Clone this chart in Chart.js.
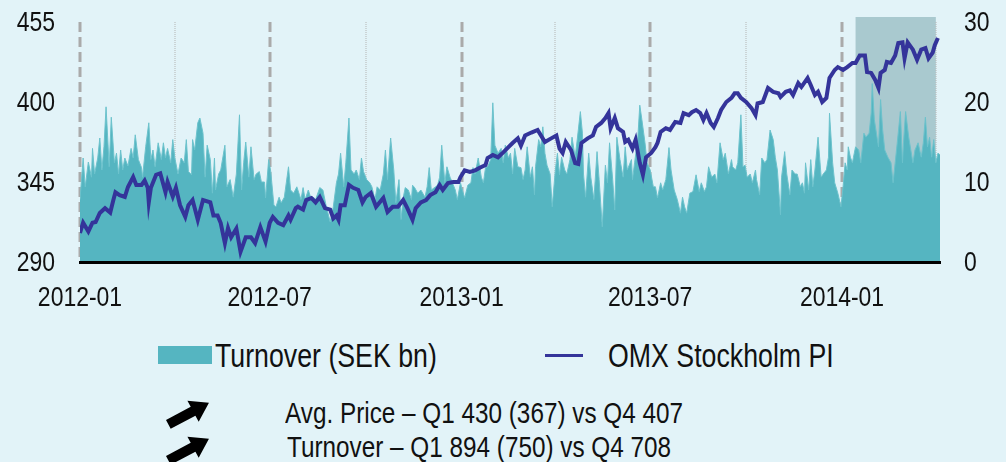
<!DOCTYPE html>
<html>
<head>
<meta charset="utf-8">
<script src="https://cdn.jsdelivr.net/npm/chart.js@4.4.1/dist/chart.umd.min.js"></script>
<style>
  body{margin:0;background:#e2f3f8;}
  #wrap{position:relative;width:1006px;height:462px;overflow:hidden;background:#e2f3f8;
        font-family:"Liberation Sans",Arial,sans-serif;color:#111;}
  #chart{position:absolute;left:0;top:0;}
  .txt{position:absolute;white-space:nowrap;line-height:1;transform-origin:0 50%;transform:scaleX(0.81);}
  .box{position:absolute;background:#55b5c1;}
  .lline{position:absolute;background:#34349a;}
  .arrow{position:absolute;}
</style>
</head>
<body>
<div id="wrap">
  <canvas id="chart" width="1006" height="320"></canvas>

  <div class="box" style="left:158px;top:346px;width:54px;height:18px;"></div>
  <div class="txt" style="left:215px;top:339px;font-size:33px;">Turnover (SEK bn)</div>
  <div class="lline" style="left:545px;top:354px;width:38px;height:3px;"></div>
  <div class="txt" style="left:608px;top:339px;font-size:33px;">OMX Stockholm PI</div>

  <svg class="arrow" style="left:166px;top:396px;" width="50" height="36" viewBox="0 0 50 36">
    <polygon points="0,12 28,12 28,5 46,17 28,29 28,22 0,22" fill="#000" transform="rotate(-28 24 18)"/>
  </svg>
  <svg class="arrow" style="left:166px;top:432px;" width="50" height="36" viewBox="0 0 50 36">
    <polygon points="0,12 28,12 28,5 46,17 28,29 28,22 0,22" fill="#000" transform="rotate(-28 24 18)"/>
  </svg>
  <div class="txt" style="left:285px;top:398px;font-size:30px;">Avg. Price – Q1 430 (367) vs Q4 407</div>
  <div class="txt" style="left:287px;top:432px;font-size:30px;">Turnover – Q1 894 (750) vs Q4 708</div>
</div>

<script>
// days counted from 2012-01-01
const halfYearDays = [0, 182, 366, 547, 731];
const halfYearLabels = ["2012-01", "2012-07", "2013-01", "2013-07", "2014-01"];
const quarterDays = [0, 91, 182, 274, 366, 456, 547, 639, 731, 821];
const shadeStart = 744;
const shadeEnd = 821;

const leftTicks = [290, 345, 400, 455];
const rightTicks = [0, 10, 20, 30];

/* OMX Stockholm PI */
const omxDays = [0,3,8,12,15,19,24,29,32,34,38,43,46,51,54,59,62,65,66,68,73,77,82,84,89,92,96,101,104,108,113,118,125,128,132,135,139,142,145,150,154,159,164,168,173,178,182,185,190,195,200,202,207,209,214,217,222,226,230,235,240,243,246,248,250,254,258,262,267,271,274,279,284,291,295,300,305,310,314,319,322,327,332,336,341,345,348,353,358,363,365,369,374,379,384,389,391,396,401,406,411,415,420,423,427,433,439,446,452,457,460,463,466,471,475,478,481,487,492,495,500,504,507,509,513,516,521,523,526,530,533,537,540,543,548,552,554,557,562,566,571,576,579,584,587,591,595,598,601,605,608,612,615,620,625,628,631,634,639,644,648,650,655,660,665,670,672,677,681,684,689,692,698,701,705,708,712,716,719,724,727,732,736,741,744,748,753,755,759,763,766,768,772,774,778,782,785,789,791,794,799,803,807,811,814,818,820,823];
const omxValues = [310,317,311,317,317.5,323.7,327,324,332.6,338,336,334.7,341.6,348.4,343,343,346,341,331,341,350,351,338,345,335,341,329,321,329,332.6,319,332.6,331,322,322,316.8,303,313.3,307,313,297,307,307,303,314,304,317,321,317,315.4,322,319,327,328,326,332.6,334,331,334.7,327,326,320,322,319,329,329,343,341,339.5,331,334.7,337.4,328,334,324.4,328,328,332.6,327,319,327,331,332.6,336,338,343,339.5,344.3,345,345,348.4,353,352,353,355,356.7,361.5,363.6,362,365.4,369,371.8,375,370,377,379,380.8,372.5,375,377,368,365,372.5,367,358,357.4,371.8,375,377,382.8,385.6,389,392.4,382,389,382,379.4,372.5,374,368,374,358,350,362,365,369,371.8,379.4,382,380.8,386.3,385.6,392.4,391,393,394.5,392.4,387.6,392.4,385.6,382.8,389,394.5,400,402.8,406,406,402.8,400,396,391,399,400,409.6,407,406,403.4,407,408,404.8,413,410.3,416.5,411.7,404.8,407,400,402.8,416.5,422,424,422,424,426.8,426.8,432,432,420.6,420,415,409.6,420,422,427.5,426.8,432,440.6,441,430,441,436,429,436,437,430,434,439,444];

/* Turnover (SEK bn) */
const turnoverDays = [0,3,5,8,11,12,14,17,19,21,23,25,28,30,33,35,37,39,41,43,46,49,51,53,56,59,60,63,66,68,70,72,75,78,80,82,84,87,89,91,94,97,100,102,104,107,108,110,113,115,118,120,122,125,127,129,130,133,135,139,141,144,147,150,153,155,157,159,162,164,167,169,172,174,177,178,181,183,186,188,191,193,196,200,202,205,208,209,212,214,216,219,222,224,226,230,233,236,240,243,246,248,250,253,255,258,260,263,265,268,270,272,275,278,280,283,285,288,291,293,295,298,301,303,306,308,310,312,315,318,319,321,324,327,331,333,335,337,341,343,345,347,350,352,355,357,360,362,365,366,369,372,375,377,379,382,385,387,389,391,394,396,398,401,404,406,408,411,413,415,417,420,423,425,427,429,432,434,436,437,440,442,444,446,448,451,453,456,458,460,462,465,467,470,472,475,477,480,482,483,485,488,490,493,496,498,501,504,506,508,511,513,515,518,521,523,525,529,530,532,535,537,539,542,544,547,550,552,554,557,559,562,565,567,570,573,576,578,580,582,585,588,591,594,596,599,601,603,606,609,611,614,617,619,622,625,626,629,631,634,636,638,640,643,645,648,649,652,654,657,659,662,665,667,669,672,673,676,678,681,683,686,688,691,693,695,696,699,701,703,705,708,711,713,716,718,719,722,724,727,730,732,734,736,737,739,741,742,744,747,749,752,754,757,759,760,762,764,766,768,770,772,775,778,780,782,784,787,789,790,792,795,797,799,801,804,807,809,811,813,815,817,819,821,823,825];
const turnoverValues = [7.8,13,9.4,12.5,10.6,14.2,11,13,15.5,11.5,14.4,19.4,11.9,18.1,12.4,13.6,11,14,11.5,13,12,14.2,13,15.9,12.8,11.8,10.6,14.4,17.4,12.8,14,11.9,14.9,12.8,14.9,13,14.2,12.4,15.3,13,11,13,12.4,15.3,11.3,10.9,15.3,14,17.4,18,16.1,10.6,14.6,12.8,8.6,13,9,11,11.5,14.6,9.4,10.3,8.1,11,18.4,9,12.4,15,10.6,14.4,10.3,11,11.3,10,10,8,12.8,11.3,7.1,6.9,8.1,7.4,8.1,11.9,9,8.6,9.4,9,7.8,9.3,7.8,9,7.8,8.1,7.8,9.3,9,7.1,5,6.9,9.9,11,13.6,9.4,12.4,18,11.5,11,11.5,10.3,13,11.3,10.3,9.9,9.4,7.8,9.4,9,11,14,10.3,15.5,11.5,7.4,10.3,5.3,8,9.3,9,7.8,9.6,9.3,8.6,9,8.1,9.4,11.8,9,9.4,9.6,10.6,14.6,9.9,11.9,10.6,10,9,7.8,9.9,9.4,8,9.6,9.9,11.8,11,13,10.6,9.9,11.8,11.9,12.8,19.9,14.6,13.6,14.2,12.4,14.6,13,13.6,11,14.2,11.9,11.8,10.3,11.5,14.4,10.6,11.9,8.4,11.9,15.3,14.4,16.9,13.6,12.1,11,6.9,11.5,13.6,10.9,13.1,11.5,11,12.8,15.6,13.1,15.3,18.8,16.1,11,8.1,13.6,10.6,7.8,13.8,10.3,4.4,12.1,9.9,14.9,10.3,6.5,15.6,12.8,10.6,14.4,11.5,12.8,10.3,12.4,15.3,19.6,17.8,14.9,12.4,11.5,9.4,9.4,8,9.9,9,10.3,14.3,11.5,9,7.8,6.1,8.1,6.9,6.1,8.6,8.8,10.9,8.8,9.9,8.8,9.4,11.9,10.6,11,9.9,14.9,12.8,13.6,11,12.8,11.9,11.5,12.4,18.4,11.9,12.1,10.6,11,9.9,11.5,10.3,8.4,13,12.4,12.8,16.5,15.3,13.1,11.5,5.9,10.6,13.8,11,8.4,11.5,11,11,9.4,9.9,8.6,12.4,9,12.8,9.4,11.5,15.6,10.6,11,11.5,13.1,18.6,12.4,9.9,8.6,6.9,9.4,12.4,11.5,14.4,13.1,12.4,13.1,14.4,14,12.4,16.1,15.6,16.1,18.6,22.3,17.8,16.1,14.4,20.3,16.5,14,13.1,12.4,9.9,12.4,14.9,18.8,12.4,14.9,18.8,15.6,14,12.4,14,14.9,13.1,14.9,18.1,14.4,15.6,13.1,15.3,12.4,13.6,13.4];

const tickFont = '28px "Liberation Sans", Arial, sans-serif';

// condensed text: the page has no narrow face, so squeeze the regular one
function narrowText(ctx, text, x, y, align){
    ctx.save();
    ctx.translate(x, y);
    ctx.scale(0.82, 1);
    ctx.textAlign = align;
    ctx.fillText(text, 0, 0);
    ctx.restore();
}

const quarterLines = {
    id: "quarterLines",
    beforeDatasetsDraw(chart){
        const {ctx, chartArea, scales} = chart;
        const xs = scales.x;
        ctx.save();

        // shaded Q1 2014
        const s0 = xs.getPixelForValue(shadeStart);
        const s1 = xs.getPixelForValue(shadeEnd);
        ctx.fillStyle = "#a9c9cf";
        ctx.fillRect(s0, chartArea.top - 5, s1 - s0, chartArea.bottom - chartArea.top + 5);

        quarterDays.forEach(d=>{
            const px = Math.round(xs.getPixelForValue(d));
            ctx.beginPath();
            if(halfYearDays.includes(d)){
                ctx.strokeStyle = "#aaaaaa";
                ctx.lineWidth = 3;
                ctx.setLineDash([10, 5]);
            }else{
                ctx.strokeStyle = "#b4b4b4";
                ctx.lineWidth = 1;
                ctx.setLineDash([1, 1]);
            }
            ctx.moveTo(px, chartArea.top);
            ctx.lineTo(px, chartArea.bottom);
            ctx.stroke();
        });
        ctx.restore();
    }
};

const narrowTicks = {
    id: "narrowTicks",
    afterDraw(chart){
        const {ctx, chartArea, scales} = chart;
        ctx.save();
        ctx.font = tickFont;
        ctx.fillStyle = "#111";
        ctx.textBaseline = "middle";

        leftTicks.forEach(v=>{
            narrowText(ctx, String(v), chartArea.left - 25, scales.y.getPixelForValue(v) + 1, "right");
        });
        rightTicks.forEach(v=>{
            narrowText(ctx, String(v), chartArea.right + 24, scales.y2.getPixelForValue(v) + 1, "left");
        });
        halfYearDays.forEach((d, i)=>{
            narrowText(ctx, halfYearLabels[i], scales.x.getPixelForValue(d), chartArea.bottom + 36, "center");
        });
        ctx.restore();
    }
};

new Chart(document.getElementById("chart"), {
    type: "line",
    data: {
        datasets: [
            {
                label: "OMX Stockholm PI",
                data: omxDays.map((d, i)=>({x: d, y: omxValues[i]})),
                yAxisID: "y",
                borderColor: "#34349a",
                borderWidth: 4,
                pointRadius: 0,
                tension: 0,
                fill: false,
                order: 0
            },
            {
                label: "Turnover (SEK bn)",
                data: turnoverDays.map((d, i)=>({x: d, y: turnoverValues[i]})),
                yAxisID: "y2",
                borderColor: "#6cc2cc",
                borderWidth: 1,
                backgroundColor: "#55b5c1",
                pointRadius: 0,
                tension: 0,
                fill: "origin",
                order: 1
            }
        ]
    },
    options: {
        responsive: false,
        animation: false,
        layout: {padding: {top: 22, left: 0, right: 0, bottom: 0}},
        plugins: {legend: {display: false}, tooltip: {enabled: false}},
        scales: {
            x: {
                type: "linear",
                min: 0,
                max: 825,
                afterBuildTicks: s=>{ s.ticks = halfYearDays.map(v=>({value: v})); },
                afterFit: s=>{ s.height = 58; },
                grid: {display: false, drawTicks: false},
                border: {display: true, color: "#000", width: 3, z: 1},
                ticks: {display: false}
            },
            y: {
                position: "left",
                min: 290,
                max: 455,
                afterBuildTicks: s=>{ s.ticks = leftTicks.map(v=>({value: v})); },
                afterFit: s=>{ s.width = 80; },
                grid: {display: false, drawTicks: false},
                border: {display: false},
                ticks: {display: false}
            },
            y2: {
                position: "right",
                min: 0,
                max: 30,
                afterBuildTicks: s=>{ s.ticks = rightTicks.map(v=>({value: v})); },
                afterFit: s=>{ s.width = 66; },
                grid: {display: false, drawTicks: false},
                border: {display: false},
                ticks: {display: false}
            }
        }
    },
    plugins: [quarterLines, narrowTicks]
});
</script>
</body>
</html>
